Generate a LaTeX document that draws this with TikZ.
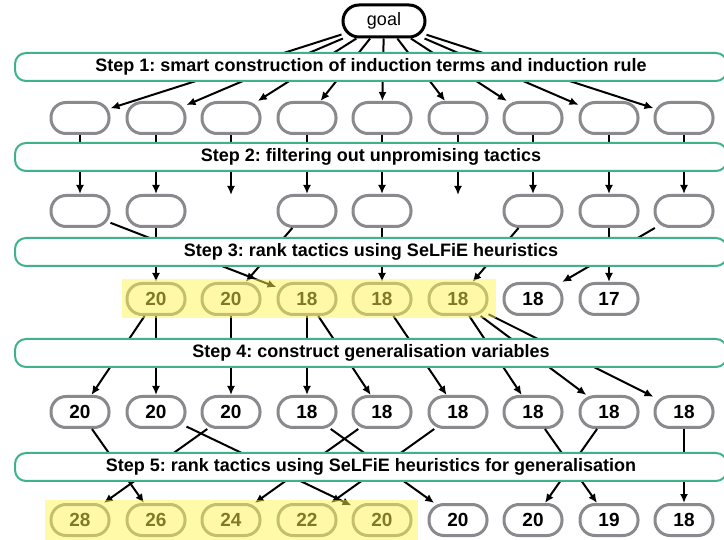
\documentclass[tikz,border=0pt]{standalone}
\usepackage{fontspec}
\setmainfont{Liberation Sans}
\usetikzlibrary{arrows.meta}
\frenchspacing
\definecolor{stepgreen}{RGB}{64,178,138}
\definecolor{tacgray}{RGB}{138,138,142}
\definecolor{hilite}{RGB}{255,245,80}
\tikzset{
  tactic/.style={draw=tacgray, line width=3pt, fill=white, rounded corners=15pt,
    minimum width=58pt, minimum height=31pt, inner sep=0pt,
    font=\fontsize{19}{19}\selectfont\bfseries},
  stepbar/.style={draw=stepgreen, line width=2pt, fill=white, rounded corners=11pt,
    minimum width=712pt, minimum height=28pt, inner sep=0pt,
    font=\fontsize{18}{18}\selectfont\bfseries},
  goalbox/.style={draw, line width=3pt, fill=white, rounded corners=16pt,
    minimum width=82pt, minimum height=32pt, inner sep=0pt,
    font=\fontsize{18}{18}\selectfont},
  link/.style={line width=2pt, -{Latex[length=9pt,width=8pt]}},
  hl/.style={fill=hilite, fill opacity=0.5}
}
\begin{document}
\begin{tikzpicture}[x=1pt,y=-1pt]
\useasboundingbox (0,0) rectangle (724,540);

\node[goalbox] (goal) at (384,21) {goal};

\node[tactic] (r1c1) at (80,118) {};
\node[tactic] (r1c2) at (156,118) {};
\node[tactic] (r1c3) at (231,118) {};
\node[tactic] (r1c4) at (307,118) {};
\node[tactic] (r1c5) at (382,118) {};
\node[tactic] (r1c6) at (458,118) {};
\node[tactic] (r1c7) at (533,118) {};
\node[tactic] (r1c8) at (609,118) {};
\node[tactic] (r1c9) at (684,118) {};

\node[tactic] (r2c1) at (80,211) {};
\node[tactic] (r2c2) at (156,211) {};
\coordinate (r2c3) at (231,195);
\node[tactic] (r2c4) at (307,211) {};
\node[tactic] (r2c5) at (382,211) {};
\coordinate (r2c6) at (458,195);
\node[tactic] (r2c7) at (533,211) {};
\node[tactic] (r2c8) at (609,211) {};
\node[tactic] (r2c9) at (684,211) {};

\node[tactic] (r3c2) at (156,299) {20};
\node[tactic] (r3c3) at (231,299) {20};
\node[tactic] (r3c4) at (307,299) {18};
\node[tactic] (r3c5) at (382,299) {18};
\node[tactic] (r3c6) at (458,299) {18};
\node[tactic] (r3c7) at (533,299) {18};
\node[tactic] (r3c8) at (609,299) {17};

\node[tactic] (r4c1) at (80,412) {20};
\node[tactic] (r4c2) at (156,412) {20};
\node[tactic] (r4c3) at (231,412) {20};
\node[tactic] (r4c4) at (307,412) {18};
\node[tactic] (r4c5) at (382,412) {18};
\node[tactic] (r4c6) at (458,412) {18};
\node[tactic] (r4c7) at (533,412) {18};
\node[tactic] (r4c8) at (609,412) {18};
\node[tactic] (r4c9) at (684,412) {18};

\node[tactic] (r5c1) at (80,520) {28};
\node[tactic] (r5c2) at (156,520) {26};
\node[tactic] (r5c3) at (231,520) {24};
\node[tactic] (r5c4) at (307,520) {22};
\node[tactic] (r5c5) at (382,520) {20};
\node[tactic] (r5c6) at (458,520) {20};
\node[tactic] (r5c7) at (533,520) {20};
\node[tactic] (r5c8) at (609,520) {19};
\node[tactic] (r5c9) at (684,520) {18};

\draw[link] (goal) -- (r1c1);
\draw[link] (goal) -- (r1c2);
\draw[link] (goal) -- (r1c3);
\draw[link] (goal) -- (r1c4);
\draw[link] (goal) -- (r1c5);
\draw[link] (goal) -- (r1c6);
\draw[link] (goal) -- (r1c7);
\draw[link] (goal) -- (r1c8);
\draw[link] (goal) -- (r1c9);

\draw[link] (r1c1) -- (r2c1);
\draw[link] (r1c2) -- (r2c2);
\draw[link] (r1c3) -- (r2c3);
\draw[link] (r1c4) -- (r2c4);
\draw[link] (r1c5) -- (r2c5);
\draw[link] (r1c6) -- (r2c6);
\draw[link] (r1c7) -- (r2c7);
\draw[link] (r1c8) -- (r2c8);
\draw[link] (r1c9) -- (r2c9);

\draw[link] (r2c1) -- (r3c4);
\draw[link] (r2c2) -- (r3c2);
\draw[link] (r2c4) -- (r3c3);
\draw[link] (r2c5) -- (r3c5);
\draw[link] (r2c7) -- (r3c6);
\draw[link] (r2c8) -- (r3c8);
\draw[link] (r2c9) -- (r3c7);

\draw[link] (r3c2) -- (r4c1);
\draw[link] (r3c2) -- (r4c2);
\draw[link] (r3c3) -- (r4c3);
\draw[link] (r3c4) -- (r4c4);
\draw[link] (r3c4) -- (r4c5);
\draw[link] (r3c5) -- (r4c6);
\draw[link] (r3c6) -- (r4c7);
\draw[link] (r3c6) -- (r4c8);
\draw[link] (r3c6) -- (r4c9);

\draw[link] (r4c1) -- (r5c2);
\draw[link] (r4c2) -- (r5c5);
\draw[link] (r4c3) -- (r5c1);
\draw[link] (r4c4) -- (r5c6);
\draw[link] (r4c5) -- (r5c3);
\draw[link] (r4c6) -- (r5c4);
\draw[link] (r4c7) -- (r5c8);
\draw[link] (r4c8) -- (r5c7);
\draw[link] (r4c9) -- (r5c9);

\node[stepbar] (step1) at (371,67) {Step 1: smart construction of induction terms and induction rule};
\node[stepbar] (step2) at (371,157) {Step 2: filtering out unpromising tactics};
\node[stepbar] (step3) at (371,252) {Step 3: rank tactics using SeLFiE heuristics};
\node[stepbar] (step4) at (371,353) {Step 4: construct generalisation variables};
\node[stepbar] (step5) at (371,467) {Step 5: rank tactics using SeLFiE heuristics for generalisation};

\fill[hl] (122,279) rectangle (496,318);
\fill[hl] (45,500) rectangle (418,541);

\end{tikzpicture}
\end{document}
